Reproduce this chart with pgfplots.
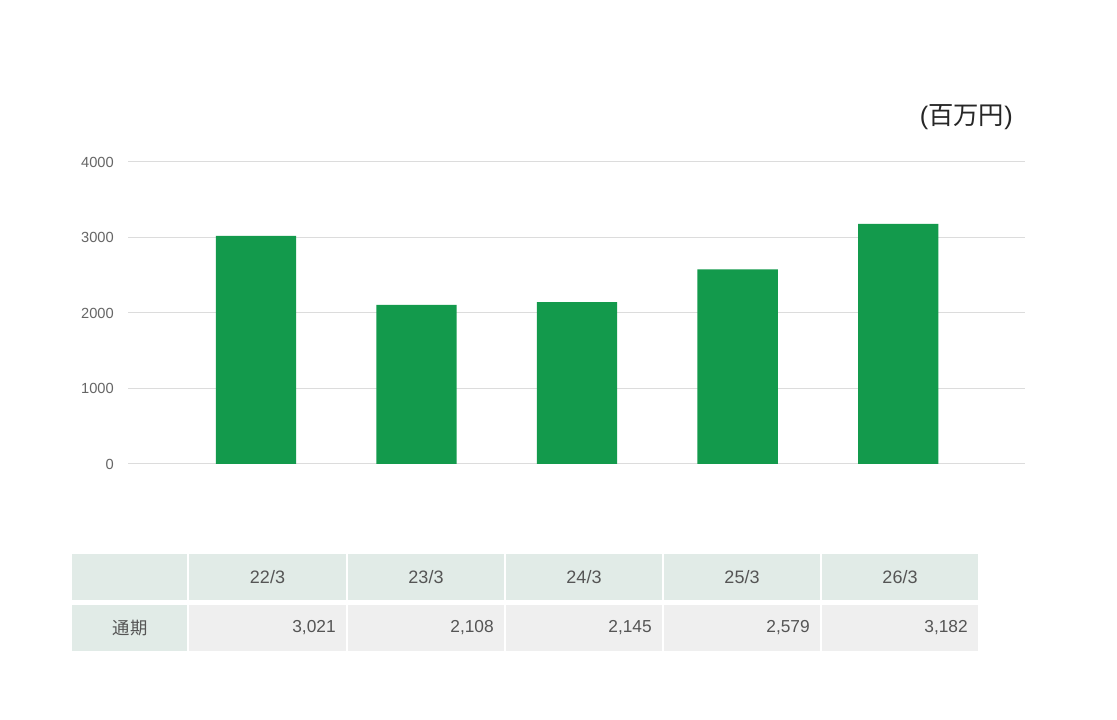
\documentclass[border=0pt]{standalone}
\usepackage{pgfplots}
\pgfplotsset{compat=1.18}
\usepackage{fontspec}
\setmainfont{Liberation Sans}
\newfontfamily\cjk{Noto Sans CJK JP}
\definecolor{barg}{HTML}{139A4C}
\definecolor{hdr}{HTML}{E1EBE7}
\definecolor{cell}{HTML}{EFEFEF}
\definecolor{txt}{HTML}{555555}
\definecolor{tick}{HTML}{666666}
\definecolor{gridc}{HTML}{DCDCDC}
\begin{document}
\begin{tikzpicture}[x=0.75pt,y=0.75pt]
\fill[white] (0,0) rectangle (1117,720);
\begin{axis}[at={(96pt,192pt)}, anchor=south west, scale only axis,
  width=672.75pt, height=226.5pt,
  xmin=-0.797, xmax=4.79, ymin=0, ymax=4000,
  axis line style={draw=none}, major tick length=0pt,
  ytick={0,1000,2000,3000,4000}, xtick=\empty,
  ymajorgrids, grid style={gridc, line width=0.75pt},
  /pgf/number format/assume math mode=true,
  /pgf/number format/1000 sep={},
  yticklabel style={font=\fontsize{11}{12}\selectfont, text=tick, inner sep=0pt, xshift=-10.5pt},
  clip=false]
\addplot[ybar, bar width=0.5, bar shift=0pt, fill=barg, draw=none] coordinates {(0,3021) (1,2108) (2,2145) (3,2579) (4,3182)};
\end{axis}
\node[anchor=east, inner sep=0pt, font=\fontsize{19}{21}\selectfont, text=black!85] at (1013,603) {(\cjk 百万円\normalfont)};
% table
\foreach \a/\b in {72/187, 189/346, 348/504, 506/662, 664/820, 822/978}{
  \fill[hdr] (\a,166) rectangle (\b,120);
}
\fill[hdr] (72,115) rectangle (187,69);
\foreach \a/\b in {189/346, 348/504, 506/662, 664/820, 822/978}{
  \fill[cell] (\a,115) rectangle (\b,69);
}
\foreach \c/\t in {267.5/22\slash3, 426/23\slash3, 584/24\slash3, 742/25\slash3, 900/26\slash3}{
  \node[text=txt, font=\fontsize{13.5}{15}\selectfont] at (\c,143) {\t};
}
\node[text=txt, font=\fontsize{13}{14}\selectfont\cjk] at (130,92) {通期};
\foreach \r/\t in {336/{3,021}, 494/{2,108}, 652/{2,145}, 810/{2,579}, 968/{3,182}}{
  \node[anchor=east, inner sep=0pt, text=txt, font=\fontsize{13}{14}\selectfont] at (\r,92) {\t};
}
\end{tikzpicture}
\end{document}
